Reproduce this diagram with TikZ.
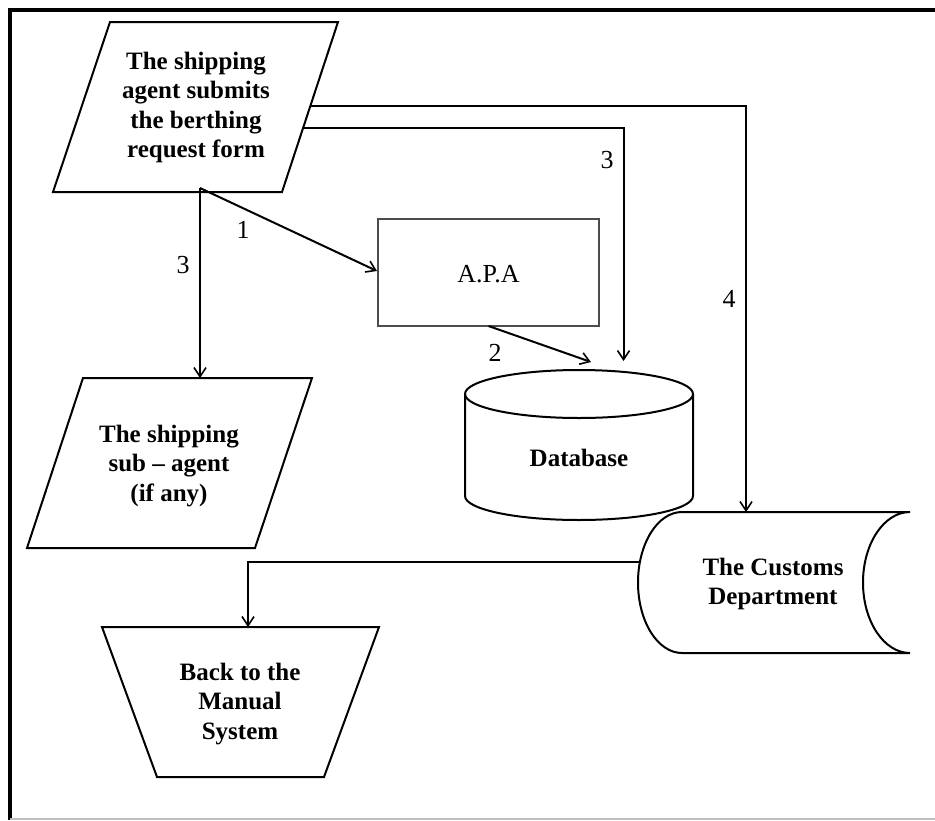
\documentclass[tikz,border=0pt]{standalone}
\usepackage{fontspec}
\setmainfont{Liberation Serif}
\usetikzlibrary{arrows.meta}
\begin{document}
\begin{tikzpicture}[x=1pt,y=-1pt,
  shapeline/.style={draw=black,line width=2pt,line join=miter},
  conn/.style={draw=black,line width=2pt,-{Straight Barb[length=9pt,width=12pt,line width=1.6pt]}},
  boldtxt/.style={align=center,font=\bfseries\fontsize{25}{29.5}\selectfont,inner sep=0pt},
  numtxt/.style={font=\fontsize{26}{30}\selectfont,inner sep=0pt},
  apatxt/.style={font=\fontsize{26}{30}\selectfont,inner sep=0pt}]
\useasboundingbox (0,0) rectangle (935,820);
\fill[white] (0,0) rectangle (935,820);
% frame
\draw[line width=4pt,line cap=butt] (9.5,820) -- (9.5,9.5) -- (935,9.5);
\draw[black!25,line width=1.5pt] (9.5,819) -- (935,819);

% top parallelogram
\draw[shapeline] (110,22) -- (338,22) -- (282,192) -- (53,192) -- cycle;
\node[boldtxt] (agent) at (196,107.5) {The shipping\\agent submits\\the berthing\\request form};
\coordinate (agentA) at (310,106);
\coordinate (agentB) at (303,128);
\coordinate (agentC) at (200,188);

% APA box
\node[draw=black!70,line width=2pt,minimum width=221pt,minimum height=107pt,inner sep=0pt] (apa) at (488.5,272.5) {};
\node[apatxt] (apatext) at (488.5,274) {A.P.A};

% database
\draw[shapeline,fill=white] (465,394) -- (465,496) arc[start angle=180,end angle=0,x radius=114,y radius=24] -- (693,394);
\draw[shapeline] (579,394) ellipse[x radius=114,y radius=24];
\node[boldtxt] (db) at (579,458) {Database};
\coordinate (dbtopA) at (591,362);
\coordinate (dbtopB) at (623.5,361);

% sub-agent parallelogram
\draw[shapeline] (83,378) -- (312,378) -- (255,548) -- (27,548) -- cycle;
\node[boldtxt] (sub) at (169,466) {The shipping\\sub -- agent\\(if any)};
\coordinate (subtop) at (200,378);

% customs department
\draw[shapeline] (682,512) -- (910,512)
  arc[start angle=270,end angle=90,x radius=47,y radius=70.5] -- (682,653)
  arc[start angle=90,end angle=270,x radius=44,y radius=70.5];
\node[boldtxt] (customs) at (773,584) {The Customs\\Department};
\coordinate (custtop) at (746,512);
\coordinate (custleft) at (640,562);

% trapezoid
\draw[shapeline] (102,627) -- (379,627) -- (324,777) -- (157,777) -- cycle;
\node[boldtxt] (manual) at (240,704) {Back to the\\Manual\\System};
\coordinate (mantop) at (248,627);

% connectors
\draw[conn] (agentC) -- (apa.west |- 0,271);
\draw[conn] (agentC) -- (subtop);
\draw[conn] (agentA) -| (custtop);
\draw[conn] (agentB) -| (dbtopB);
\draw[conn] (apa.south |- 0,326) -- (dbtopA);
\draw[conn] (custleft) -| (mantop);

% labels
\node[numtxt] (l1) at (243,230) {1};
\node[numtxt] (l3a) at (183,265) {3};
\node[numtxt] (l3b) at (607,160) {3};
\node[numtxt] (l4) at (729,299) {4};
\node[numtxt] (l2) at (495,353) {2};
\end{tikzpicture}
\end{document}
